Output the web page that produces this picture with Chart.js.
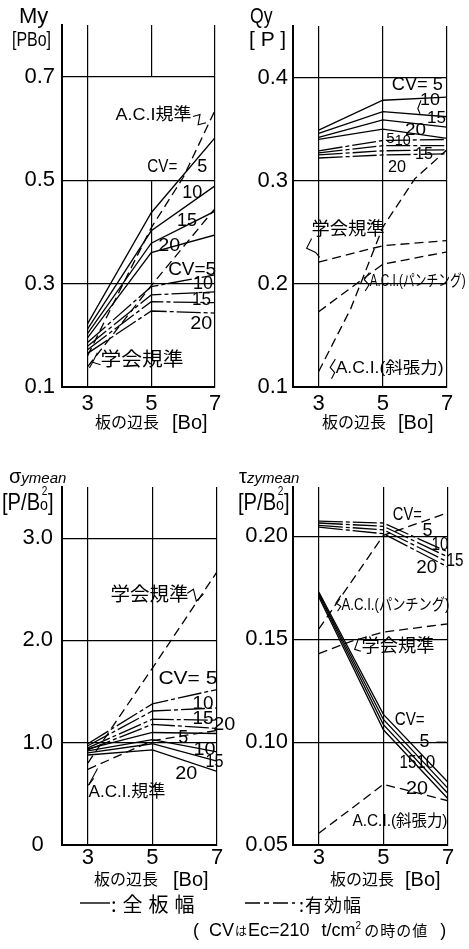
<!DOCTYPE html>
<html lang="ja">
<head>
<meta charset="utf-8">
<title>板の辺長と断面力・応力</title>
<script src="https://cdn.jsdelivr.net/npm/chart.js@4.4.1/dist/chart.umd.min.js"></script>
<style>
  html, body { margin:0; padding:0; background:#fff; }
  body { position:relative; width:469px; height:949px; overflow:hidden; color:#000;
         font-family:"Liberation Sans","Noto Sans CJK JP",sans-serif; }
  canvas { position:absolute; }
  .lbl { position:absolute; white-space:nowrap; line-height:1; }
  .jp { font-family:"Noto Sans CJK JP",sans-serif; }
  .sx { transform-origin:0 0; }
  .so { position:relative; font-size:17px; }
  .s2 { position:absolute; left:2px; top:-10px; font-size:12px; }
</style>
</head>
<body>
<canvas id="pMy"  style="left:0;top:0;width:240px;height:440px" width="240" height="440"></canvas>
<canvas id="pQy"  style="left:234px;top:0;width:235px;height:440px" width="235" height="440"></canvas>
<canvas id="pSig" style="left:0;top:440px;width:240px;height:509px" width="240" height="509"></canvas>
<canvas id="pTau" style="left:234px;top:440px;width:235px;height:509px" width="235" height="509"></canvas>

<!-- axis titles -->
<div class="lbl" style="left:19px;top:5px;font-size:22px">My</div>
<div class="lbl sx" style="left:12px;top:28px;font-size:21px;transform:scaleX(.76)">[PBo]</div>
<div class="lbl sx" style="left:250px;top:5px;font-size:22px;transform:scaleX(.8)">Qy</div>
<div class="lbl" style="left:249px;top:28px;font-size:21px">[ P ]</div>

<div class="lbl" style="left:9px;top:466px;font-size:20px">σ<span style="font-size:15px;font-style:italic">ymean</span></div>
<div class="lbl sx" style="left:2px;top:490px;font-size:24px;transform:scaleX(.84)">[P/B<span class="so">o<span class="s2">2</span></span>]</div>
<div class="lbl" style="left:239px;top:466px;font-size:20px">τ<span style="font-size:15px;font-style:italic">zymean</span></div>
<div class="lbl sx" style="left:238px;top:490px;font-size:24px;transform:scaleX(.84)">[P/B<span class="so">o<span class="s2">2</span></span>]</div>

<div class="lbl jp" style="left:95px;top:413px;font-size:16px">板の辺長</div>
<div class="lbl" style="left:172px;top:412px;font-size:20px">[Bo]</div>
<div class="lbl jp" style="left:322px;top:413px;font-size:16px">板の辺長</div>
<div class="lbl" style="left:398px;top:412px;font-size:20px">[Bo]</div>
<div class="lbl jp" style="left:94px;top:870px;font-size:16px">板の辺長</div>
<div class="lbl" style="left:173px;top:869px;font-size:20px">[Bo]</div>
<div class="lbl jp" style="left:330px;top:870px;font-size:16px">板の辺長</div>
<div class="lbl" style="left:405px;top:869px;font-size:20px">[Bo]</div>

<!-- line legend and note -->
<svg style="position:absolute;left:78px;top:896px" width="34" height="14"><line x1="2" y1="7" x2="32" y2="7" stroke="#000" stroke-width="1.4"/></svg>
<div class="lbl jp" style="left:111px;top:894px;font-size:20px;letter-spacing:6px">:全板幅</div>
<svg style="position:absolute;left:243px;top:896px" width="54" height="14"><line x1="2" y1="7" x2="52" y2="7" stroke="#000" stroke-width="1.4" stroke-dasharray="15 4 5 4"/></svg>
<div class="lbl jp" style="left:299px;top:895px;font-size:18px;letter-spacing:1px">:有効幅</div>
<div class="lbl" style="left:193px;top:921px;font-size:18px">(<span style="margin-left:10px">CV</span><span class="jp" style="font-size:12px;margin:0 1px">は</span>Ec=210<span style="margin-left:12px">t/cm</span><sup style="font-size:10px">2</sup><span class="jp" style="font-size:15px;margin-left:3px;letter-spacing:1px">の時の値</span><span style="margin-left:12px">)</span></div>

<script>
// plate side length [Bo]
const sideLength = [3, 5, 7];
const sideLengthFine = [3, 4, 5, 6, 7];
const sideLengthTauGakkai = [3, 4, 5, 7];

// My [PBo] : full width (solid) and effective width (chain) for CV = 5, 10, 15, 20
const myFull5  = [0.222, 0.437, 0.582];
const myFull10 = [0.212, 0.402, 0.489];
const myFull15 = [0.203, 0.378, 0.440];
const myFull20 = [0.195, 0.360, 0.394];
const myEff5   = [0.186, 0.294, 0.317];
const myEff10  = [0.179, 0.278, 0.284];
const myEff15  = [0.172, 0.265, 0.263];
const myEff20  = [0.165, 0.247, 0.243];
const myAci    = [0.160, 0.285, 0.408, 0.505, 0.635];   // at sideLengthFine
const myGakkai = [0.139, 0.296, 0.445];
const myTicks  = [0.1, 0.3, 0.5, 0.7];
const myTickLabels = ['0.1', '0.3', '0.5', '0.7'];

// Qy [P]
const qyFull5  = [0.349, 0.378, 0.381];
const qyFull10 = [0.346, 0.367, 0.362];
const qyFull15 = [0.342, 0.359, 0.352];
const qyFull20 = [0.340, 0.350, 0.341];
const qyEff5   = [0.329, 0.339, 0.340];
const qyEff10  = [0.327, 0.334, 0.334];
const qyEff15  = [0.325, 0.329, 0.330];
const qyEff20  = [0.322, 0.325, 0.326];
const qyGakkai   = [0.221, 0.237, 0.242];
const qyAciPunch = [0.173, 0.219, 0.231];
const qyAciShear = [0.115, 0.176, 0.255, 0.302, 0.330];  // at sideLengthFine
const qyTicks  = [0.1, 0.2, 0.3, 0.4];
const qyTickLabels = ['0.1', '0.2', '0.3', '0.4'];

// σy mean [P/Bo²]
const sigFull5  = [0.94, 1.10, 1.09];
const sigFull10 = [0.92, 1.03, 0.91];
const sigFull15 = [0.90, 0.99, 0.82];
const sigFull20 = [0.88, 0.93, 0.72];
const sigEff5   = [0.99, 1.38, 1.52];
const sigEff10  = [0.97, 1.31, 1.34];
const sigEff15  = [0.95, 1.23, 1.22];
const sigEff20  = [0.93, 1.18, 1.14];
const sigGakkai = [0.80, 1.73, 2.67];
const sigAci    = [0.74, 1.02, 1.12];
const sigTicks  = [0, 1, 2, 3];
const sigTickLabels = ['0', '1.0', '2.0', '3.0'];

// τzy mean [P/Bo²]
const tauFull5  = [0.1730, 0.1135, 0.0805];
const tauFull10 = [0.1722, 0.1110, 0.0775];
const tauFull15 = [0.1715, 0.1085, 0.0750];
const tauFull20 = [0.1705, 0.1060, 0.0725];
const tauEff5   = [0.2074, 0.2065, 0.1924];
const tauEff10  = [0.2065, 0.2049, 0.1900];
const tauEff15  = [0.2053, 0.2032, 0.1875];
const tauEff20  = [0.2045, 0.2013, 0.1851];
const tauAciPunch = [0.155, 0.2005, 0.2115];
const tauGakkai   = [0.143, 0.149, 0.1535, 0.1575];  // at sideLengthTauGakkai
const tauAciShear = [0.0557, 0.0795, 0.0715];
const tauTicks  = [0.05, 0.10, 0.15, 0.20];
const tauTickLabels = ['0.05', '0.10', '0.15', '0.20'];

const xTicks = [3, 5, 7];
const xTickLabels = ['3', '5', '7'];

// line styles
const SOLID = [];
const DASHED = [9, 5];
const CHAIN = [24, 3, 4, 3];

function series(xs, ys, dash) {
  return {
    data: xs.map((x, i) => ({ x, y: ys[i] })),
    borderColor: '#000', borderWidth: 1.3, borderDash: dash,
    pointRadius: 0, pointHoverRadius: 0, tension: 0, fill: false
  };
}

const alignPx = (p, w) => Math.round(p - w / 2) + w / 2;

// interrupted grid line at Bo = 5, leader strokes and in-plot notes
const panelDecor = {
  id: 'panelDecor',
  beforeDatasetsDraw(chart, _a, opts) {
    const { ctx, scales: { x, y } } = chart;
    ctx.save();
    ctx.strokeStyle = '#000';
    ctx.lineWidth = 1.2;
    const px = alignPx(x.getPixelForValue(5), 1.2);
    (opts.midLine || []).forEach(([a, b]) => {
      ctx.beginPath();
      ctx.moveTo(px, y.getPixelForValue(a));
      ctx.lineTo(px, y.getPixelForValue(b));
      ctx.stroke();
    });
    ctx.restore();
  },
  afterDatasetsDraw(chart, _a, opts) {
    const { ctx, scales: { x, y } } = chart;
    ctx.save();
    ctx.fillStyle = '#000';
    ctx.strokeStyle = '#000';
    ctx.lineWidth = 1.1;
    (opts.hooks || []).forEach(h => {
      ctx.beginPath();
      h.forEach(([vx, vy], i) => {
        const X = x.getPixelForValue(vx), Y = y.getPixelForValue(vy);
        if (i) ctx.lineTo(X, Y); else ctx.moveTo(X, Y);
      });
      ctx.stroke();
    });
    (opts.notes || []).forEach(n => {
      ctx.font = (n.s || 18) + 'px "Liberation Sans", "Noto Sans CJK JP", sans-serif';
      const w = ctx.measureText(n.t).width;
      const sx = n.w ? Math.min(1.25, Math.max(0.55, n.w / w)) : 1;
      ctx.save();
      ctx.translate(x.getPixelForValue(n.x), y.getPixelForValue(n.y));
      ctx.scale(sx, 1);
      ctx.textAlign = 'left';
      ctx.textBaseline = 'middle';
      ctx.fillText(n.t, 0, 0);
      ctx.restore();
    });
    ctx.restore();
  }
};

function makePanel(id, p) {
  return new Chart(document.getElementById(id), {
    type: 'line',
    data: { datasets: p.datasets },
    options: {
      responsive: false,
      maintainAspectRatio: false,
      devicePixelRatio: 1,
      animation: false,
      events: [],
      layout: { autoPadding: false, padding: { left: 0, right: p.padRight, top: p.padTop, bottom: 0 } },
      plugins: {
        legend: { display: false },
        tooltip: { enabled: false },
        panelDecor: { midLine: p.midLine, notes: p.notes, hooks: p.hooks }
      },
      scales: {
        x: {
          type: 'linear', min: 2.2, max: 7,
          afterBuildTicks: s => { s.ticks = xTicks.map(v => ({ value: v })); },
          afterFit: s => { s.height = p.xH; s.paddingLeft = 0; s.paddingRight = 0; s.paddingTop = 0; s.paddingBottom = 0; },
          ticks: {
            callback: (v, i) => xTickLabels[i], autoSkip: false, maxRotation: 0,
            font: { family: 'Liberation Sans', size: 22 }, color: '#000', padding: p.xPad
          },
          grid: {
            color: c => (c.tick && c.tick.value === 5) ? 'rgba(0,0,0,0)' : '#000',
            lineWidth: 1.2, drawTicks: false
          },
          border: { display: true, color: '#000', width: 2 }
        },
        y: {
          type: 'linear', min: p.yMin, max: p.yMax,
          afterBuildTicks: s => { s.ticks = p.yTicks.map(v => ({ value: v })); },
          afterFit: s => { s.width = p.yW; s.paddingLeft = 0; s.paddingRight = 0; s.paddingTop = 0; s.paddingBottom = 0; },
          ticks: {
            callback: (v, i) => p.yLabels[i], autoSkip: false, crossAlign: 'center',
            font: { family: 'Liberation Sans', size: 22 }, color: '#000', padding: p.yPad
          },
          grid: { color: '#000', lineWidth: 1.2, drawTicks: false },
          border: { display: true, color: '#000', width: 2 }
        }
      }
    },
    plugins: [panelDecor]
  });
}

// My
makePanel('pMy', {
  yMin: 0.1, yMax: 0.8, yTicks: myTicks, yLabels: myTickLabels,
  padRight: 25, padTop: 25, yW: 62, xH: 53, yPad: 7, xPad: 4,
  midLine: [[0.7, 0.8], [0.1, 0.5]],
  datasets: [
    series(sideLength, myFull5, SOLID), series(sideLength, myFull10, SOLID),
    series(sideLength, myFull15, SOLID), series(sideLength, myFull20, SOLID),
    series(sideLength, myEff5, CHAIN), series(sideLength, myEff10, CHAIN),
    series(sideLength, myEff15, CHAIN), series(sideLength, myEff20, CHAIN),
    series(sideLengthFine, myAci, DASHED), series(sideLength, myGakkai, DASHED)
  ],
  notes: [
    { t: 'A.C.I規準', x: 3.875, y: 0.625, s: 17, w: 76 },
    { t: 'CV=', x: 4.875, y: 0.526, w: 30 },
    { t: '5', x: 6.44, y: 0.526 },
    { t: '10', x: 5.97, y: 0.476, w: 20 },
    { t: '15', x: 5.81, y: 0.42, w: 20 },
    { t: '20', x: 5.22, y: 0.372, w: 22 },
    { t: 'CV=5', x: 5.53, y: 0.326, w: 48 },
    { t: '10', x: 6.31, y: 0.299, w: 20 },
    { t: '15', x: 6.28, y: 0.268, w: 19 },
    { t: '20', x: 6.22, y: 0.222, w: 22 },
    { t: '学会規準', x: 3.41, y: 0.15, s: 19, w: 83 }
  ],
  hooks: [
    [[6.31, 0.623], [6.53, 0.627], [6.47, 0.607], [6.72, 0.611]],
    [[3.31, 0.166], [3.16, 0.148], [3.41, 0.143]],
    [[3.16, 0.148], [3.06, 0.137]]
  ]
});

// Qy
makePanel('pQy', {
  yMin: 0.1, yMax: 0.45, yTicks: qyTicks, yLabels: qyTickLabels,
  padRight: 22, padTop: 26, yW: 59, xH: 53, yPad: 5, xPad: 4,
  midLine: [[0.1, 0.45]],
  datasets: [
    series(sideLength, qyFull5, SOLID), series(sideLength, qyFull10, SOLID),
    series(sideLength, qyFull15, SOLID), series(sideLength, qyFull20, SOLID),
    series(sideLength, qyEff5, CHAIN), series(sideLength, qyEff10, CHAIN),
    series(sideLength, qyEff15, CHAIN), series(sideLength, qyEff20, CHAIN),
    series(sideLength, qyGakkai, DASHED), series(sideLength, qyAciPunch, DASHED),
    series(sideLengthFine, qyAciShear, DASHED)
  ],
  notes: [
    { t: 'CV= 5', x: 5.28, y: 0.3925, w: 51 },
    { t: '10', x: 6.16, y: 0.378, s: 17, w: 20 },
    { t: '15', x: 6.375, y: 0.3605, s: 17, w: 19 },
    { t: '20', x: 5.69, y: 0.349, s: 17, w: 21 },
    { t: '5', x: 5.11, y: 0.341, s: 15 },
    { t: '10', x: 5.375, y: 0.339, s: 15, w: 16 },
    { t: '15', x: 6.0, y: 0.3256, s: 17, w: 18 },
    { t: '20', x: 5.16, y: 0.313, s: 17, w: 18 },
    { t: '学会規準', x: 2.78, y: 0.252, s: 18, w: 73 },
    { t: 'A.C.I.(パンチング)', x: 4.59, y: 0.2026, s: 16, w: 96 },
    { t: 'A.C.I.(斜張力)', x: 3.53, y: 0.118, s: 16, w: 108 }
  ],
  hooks: [
    [[6.19, 0.378], [6.09, 0.370], [6.16, 0.365]],
    [[2.78, 0.244], [2.625, 0.2345], [2.906, 0.2305], [3.03, 0.2257]],
    [[4.58, 0.211], [4.42, 0.204], [4.57, 0.199], [4.45, 0.193]],
    [[3.52, 0.127], [3.36, 0.119], [3.5, 0.114], [3.4, 0.108]]
  ]
});

// σy mean
makePanel('pSig', {
  yMin: 0, yMax: 3.5, yTicks: sigTicks, yLabels: sigTickLabels,
  padRight: 23, padTop: 47, yW: 62, xH: 104, yPad: 9, xPad: 0,
  midLine: [[0, 3.5]],
  datasets: [
    series(sideLength, sigFull5, SOLID), series(sideLength, sigFull10, SOLID),
    series(sideLength, sigFull15, SOLID), series(sideLength, sigFull20, SOLID),
    series(sideLength, sigEff5, CHAIN), series(sideLength, sigEff10, CHAIN),
    series(sideLength, sigEff15, CHAIN), series(sideLength, sigEff20, CHAIN),
    series(sideLength, sigGakkai, DASHED), series(sideLength, sigAci, DASHED)
  ],
  notes: [
    { t: '学会規準', x: 3.70, y: 2.433, s: 19, w: 78 },
    { t: 'CV= 5', x: 5.185, y: 1.625, w: 59 },
    { t: '10', x: 6.24, y: 1.38, w: 21 },
    { t: '15', x: 6.24, y: 1.236, w: 21 },
    { t: '20', x: 6.88, y: 1.168, w: 22 },
    { t: '5', x: 5.80, y: 1.05 },
    { t: '10', x: 6.27, y: 0.925, w: 22 },
    { t: '15', x: 6.64, y: 0.808, w: 18 },
    { t: '20', x: 5.71, y: 0.69, w: 22 },
    { t: 'A.C.I.規準', x: 3.02, y: 0.516, s: 17, w: 77 }
  ],
  hooks: [
    [[6.08, 2.462], [6.27, 2.501], [6.36, 2.384], [6.58, 2.453]],
    [[3.30, 0.749], [3.02, 0.584]],
    [[3.02, 0.584], [3.18, 0.652]]
  ]
});

// τzy mean
makePanel('pTau', {
  yMin: 0.05, yMax: 0.224, yTicks: tauTicks, yLabels: tauTickLabels,
  padRight: 21, padTop: 47, yW: 59, xH: 104, yPad: 5, xPad: 0,
  midLine: [[0.05, 0.224]],
  datasets: [
    series(sideLength, tauFull5, SOLID), series(sideLength, tauFull10, SOLID),
    series(sideLength, tauFull15, SOLID), series(sideLength, tauFull20, SOLID),
    series(sideLength, tauEff5, CHAIN), series(sideLength, tauEff10, CHAIN),
    series(sideLength, tauEff15, CHAIN), series(sideLength, tauEff20, CHAIN),
    series(sideLength, tauAciPunch, DASHED), series(sideLengthTauGakkai, tauGakkai, DASHED),
    series(sideLength, tauAciShear, DASHED)
  ],
  notes: [
    { t: 'CV=', x: 5.29, y: 0.2102, w: 29 },
    { t: '5', x: 6.21, y: 0.2024 },
    { t: '10', x: 6.49, y: 0.1956, w: 17 },
    { t: '15', x: 6.95, y: 0.1879, w: 17 },
    { t: '20', x: 6.02, y: 0.1845, w: 21 },
    { t: 'A.C.I.(パンチング)', x: 3.70, y: 0.1665, s: 16, w: 108 },
    { t: '学会規準', x: 4.32, y: 0.1461, s: 18, w: 73 },
    { t: 'CV=', x: 5.35, y: 0.1107, w: 30 },
    { t: '5', x: 6.12, y: 0.1 },
    { t: '15', x: 5.5, y: 0.0898, w: 17 },
    { t: '10', x: 6.02, y: 0.0898, w: 19 },
    { t: '20', x: 5.7, y: 0.077, w: 22 },
    { t: 'A.C.I.(斜張力)', x: 4.04, y: 0.0615, s: 16, w: 95 }
  ],
  hooks: [
    [[3.68, 0.1712], [3.53, 0.1676], [3.68, 0.1660], [3.58, 0.1636]],
    [[4.23, 0.1504], [4.11, 0.1451], [4.30, 0.1442]],
    [[6.64, 0.1], [6.95, 0.1]]
  ]
});
</script>
</body>
</html>
